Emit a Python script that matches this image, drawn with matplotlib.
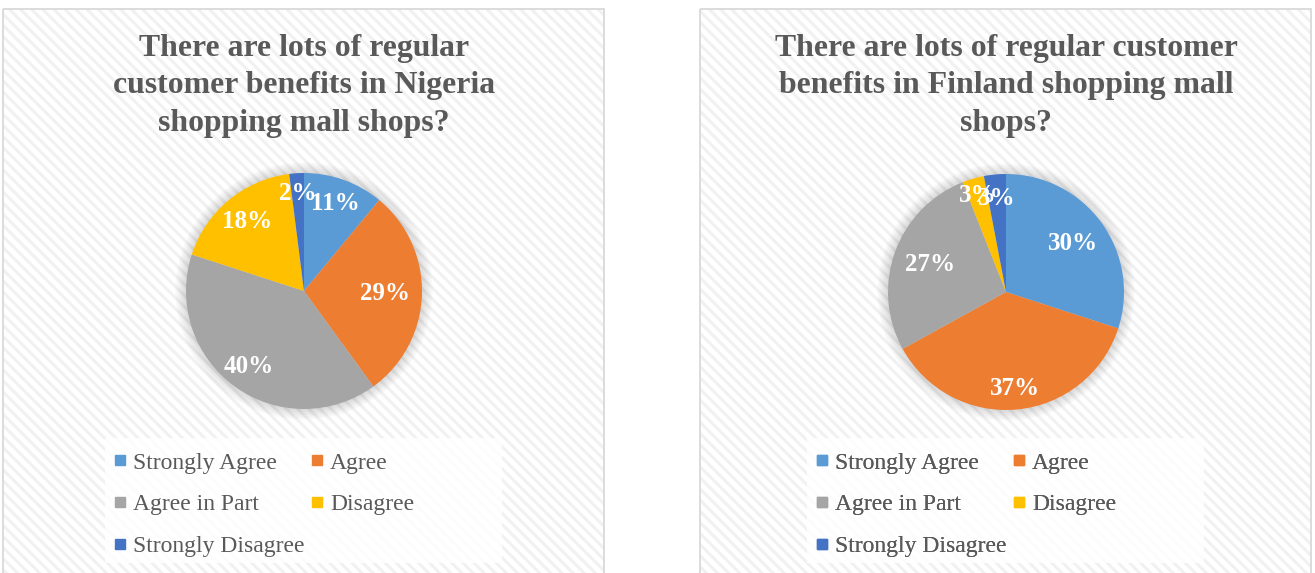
import matplotlib
matplotlib.use('Agg')
import matplotlib.pyplot as plt
from matplotlib.patches import Rectangle, Circle
from matplotlib.lines import Line2D

# survey answers, share of respondents in percent
categories = ['Strongly Agree', 'Agree', 'Agree in Part', 'Disagree', 'Strongly Disagree']
nigeria_pct = [11, 29, 40, 18, 2]
finland_pct = [30, 37, 27, 3, 3]
nigeria_title = 'There are lots of regular\ncustomer benefits in Nigeria\nshopping mall shops?'
finland_title = 'There are lots of regular customer\nbenefits in Finland shopping mall\nshops?'

colors = ['#5B9BD5', '#ED7D31', '#A5A5A5', '#FFC000', '#4472C4']
text_gray = '#595959'

W, H = 1315, 573
plt.rcParams['font.family'] = ['Liberation Serif', 'DejaVu Serif']
plt.rcParams['hatch.linewidth'] = 2.2

fig = plt.figure(figsize=(W / 100, H / 100), dpi=100)

# background axes in pixel coordinates (y down)
bg = fig.add_axes([0, 0, 1, 1])
bg.set_xlim(0, W)
bg.set_ylim(H, 0)
bg.axis('off')


def draw_panel(x0, x1, cx, cy, r, values, title, label_dist):
    # striped chart area with thin border
    bg.add_patch(Rectangle((x0, 9), x1 - x0, 600, facecolor='white',
                           edgecolor='#F1F1F1', hatch='\\\\\\', lw=0))
    bg.add_patch(Rectangle((x0, 9), x1 - x0, 600, facecolor='none',
                           edgecolor='#D9D9D9', lw=1.3))

    bg.text(cx, 86, title, ha='center', va='center', fontsize=22.9,
            fontweight='bold', color=text_gray, linespacing=1.38)

    # pie axes
    k = 1.3
    ax = fig.add_axes([(cx - k * r) / W, (H - cy - k * r) / H, 2 * k * r / W, 2 * k * r / H])
    ax.axis('off')

    # soft shadow around the pie
    for i in range(7):
        ax.add_patch(Circle((0, 0), 1.0 + 0.013 * (i + 1), color='black', alpha=0.018,
                            lw=0, zorder=0))

    wedges, texts, autotexts = ax.pie(
        values, colors=colors, startangle=90, counterclock=False,
        autopct='%1.0f%%', pctdistance=0.6, radius=1.0,
        wedgeprops=dict(linewidth=0),
        textprops=dict(color='white', fontsize=18, fontweight='bold'))
    for w in wedges:
        w.set_zorder(2)
    for t, d in zip(autotexts, label_dist):
        x, y = t.get_position()
        t.set_position((x / 0.6 * d, y / 0.6 * d))
        t.set_zorder(3)
    ax.set_xlim(-k, k)
    ax.set_ylim(-k, k)
    ax.set_aspect('equal')

    # legend box
    lx = cx - 199
    bg.add_patch(Rectangle((lx, 438), 397, 125, facecolor='white', alpha=0.85, lw=0))
    order = [0, 2, 4, 1, 3]
    handles = [Line2D([], [], marker='s', color=colors[i], linestyle='none', markersize=7.5)
               for i in order]
    labels = [categories[i] for i in order]
    leg = bg.legend(handles, labels, loc='upper left', bbox_to_anchor=(lx + 9, 452),
                    bbox_transform=bg.transData, ncol=2, frameon=False, fontsize=17,
                    labelcolor=text_gray, borderpad=0, handlelength=0.5,
                    handletextpad=0.3, columnspacing=0.28, labelspacing=0.86,
                    borderaxespad=0)
    bg.add_artist(leg)


draw_panel(3, 604, 304, 291, 118, nigeria_pct, nigeria_title, [0.79, 0.69, 0.79, 0.76, 0.83])
draw_panel(700, 1311, 1006, 292, 118, finland_pct, finland_title, [0.70, 0.82, 0.68, 0.85, 0.80])

fig.savefig('out.png', dpi=100)
